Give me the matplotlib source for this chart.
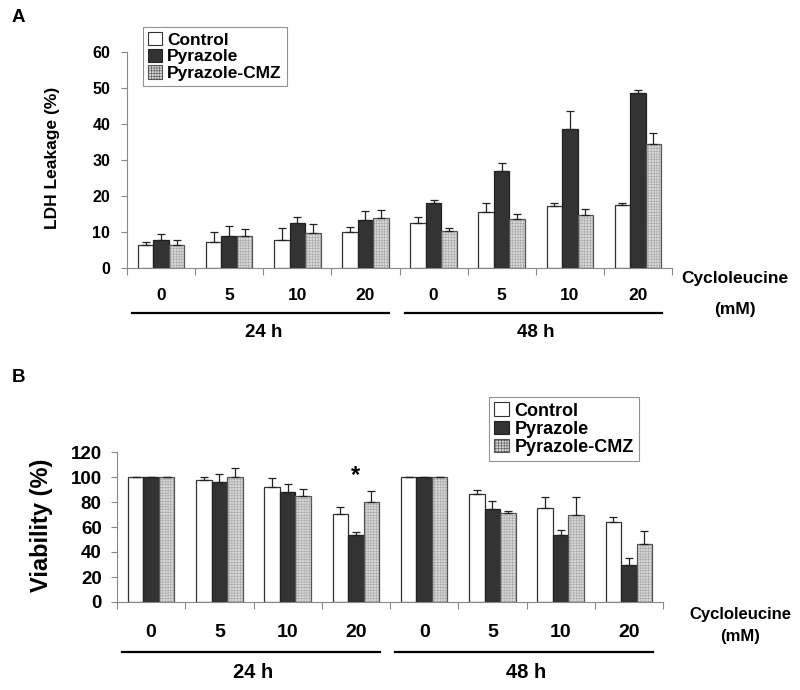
import matplotlib
matplotlib.use("Agg")
import matplotlib.pyplot as plt
import numpy as np
from matplotlib.patches import Patch
from matplotlib.transforms import blended_transform_factory

plt.rcParams["font.family"] = ["Liberation Sans", "DejaVu Sans"]
plt.rcParams["font.weight"] = "bold"
plt.rcParams["hatch.linewidth"] = 0.4

# ---- data ------------------------------------------------------------------
doses = ["0", "5", "10", "20", "0", "5", "10", "20"]
times = ["24 h", "48 h"]
series = ["Control", "Pyrazole", "Pyrazole-CMZ"]

ldh_control = [6.3, 7.3, 7.9, 10.1, 12.5, 15.5, 17.1, 17.6]
ldh_control_err = [1.0, 2.8, 3.3, 1.3, 1.6, 2.6, 1.0, 0.5]
ldh_pyrazole = [7.9, 9.0, 12.4, 13.4, 18.1, 26.9, 38.7, 48.6]
ldh_pyrazole_err = [1.6, 2.8, 1.9, 2.4, 0.9, 2.4, 4.8, 0.9]
ldh_cmz = [6.3, 9.0, 9.6, 13.8, 10.2, 13.6, 14.6, 34.4]
ldh_cmz_err = [1.6, 1.7, 2.5, 2.3, 0.8, 1.4, 1.8, 3.2]

via_control = [100, 97.3, 92.3, 70.2, 100, 86.4, 75.3, 64.4]
via_control_err = [0, 2.7, 6.9, 5.9, 0, 3.2, 8.7, 4.0]
via_pyrazole = [100, 96.3, 87.8, 54.0, 100, 74.1, 54.0, 29.8]
via_pyrazole_err = [0, 5.8, 6.3, 1.9, 0, 7.0, 3.7, 5.8]
via_cmz = [100, 100, 84.6, 79.8, 100, 71.3, 69.4, 46.3]
via_cmz_err = [0, 7.2, 5.8, 8.8, 0, 1.8, 14.6, 10.3]

# ---- styles ----------------------------------------------------------------
FILLS = [
    dict(facecolor="white", edgecolor="none"),
    dict(facecolor="#333333", edgecolor="none"),
    dict(facecolor="#d6d6d6", edgecolor="#a8a8a8", hatch="++++++"),
]
EDGES = ["#333333", "#222222", "#555555"]
W = 0.228
AXIS_GREY = "#888888"


def panel(ax, vals, errs, ymax, ystep, tick_fs, tick_pad, cat_fs, ylabel,
          ylabel_fs, ylabel_x, line_y, text_y, time_fs):
    x = np.arange(len(doses))
    for i, (v, e) in enumerate(zip(vals, errs)):
        xs = x + (i - 1) * W
        ax.bar(xs, v, W, linewidth=0, zorder=2, **FILLS[i])
        ax.bar(xs, v, W, facecolor="none", edgecolor=EDGES[i], linewidth=0.9,
               zorder=2.5)
        e = np.array(e)
        ax.errorbar(xs, v, yerr=[np.zeros_like(e), e], fmt="none",
                    ecolor="#222222", elinewidth=0.9, capsize=3, capthick=0.9,
                    zorder=3)
    ax.set_xlim(-0.5, len(doses) - 0.5)
    ax.set_ylim(0, ymax)
    ax.set_yticks(np.arange(0, ymax + 1, ystep))
    ax.tick_params(axis="y", labelsize=tick_fs, length=4, color=AXIS_GREY,
                   width=0.8, pad=tick_pad)
    ax.set_xticks(np.arange(-0.5, len(doses)), minor=False)
    ax.set_xticklabels([])
    ax.set_xticks(x, minor=True)
    ax.set_xticklabels(doses, minor=True, fontsize=cat_fs)
    ax.tick_params(axis="x", which="major", length=5, color=AXIS_GREY, width=0.8)
    ax.tick_params(axis="x", which="minor", length=0, pad=cat_fs * 1.15)
    for s in ["top", "right"]:
        ax.spines[s].set_visible(False)
    for s in ["left", "bottom"]:
        ax.spines[s].set_color(AXIS_GREY)
        ax.spines[s].set_linewidth(0.8)
    ax.set_ylabel(ylabel, fontsize=ylabel_fs, fontweight="bold")
    ax.yaxis.set_label_coords(ylabel_x, 0.51)

    tr = blended_transform_factory(ax.transData, ax.transAxes)
    for k, t in enumerate(times):
        x0 = k * 4 - 0.42
        x1 = k * 4 + 3.35
        ax.plot([x0, x1], [line_y, line_y], color="black", lw=1.6,
                transform=tr, clip_on=False)
        ax.text(k * 4 + 1.5, text_y, t, transform=tr, ha="center", va="center",
                fontsize=time_fs, fontweight="bold")


def legend(fig, anchor, fs):
    handles = [Patch(label=s, facecolor=FILLS[i]["facecolor"],
                     edgecolor=EDGES[i], hatch=FILLS[i].get("hatch"),
                     linewidth=0.8) for i, s in enumerate(series)]
    leg = fig.legend(handles=handles, loc="upper left", bbox_to_anchor=anchor,
                     fontsize=fs, frameon=True, fancybox=False,
                     handlelength=0.8, handleheight=0.8, handletextpad=0.3,
                     labelspacing=0.05, borderpad=0.3, borderaxespad=0)
    leg.get_frame().set_edgecolor("#777777")
    leg.get_frame().set_linewidth(0.8)
    return leg


fig = plt.figure(figsize=(8, 6.9), dpi=100)

# ---- panel A ---------------------------------------------------------------
axA = fig.add_axes([127 / 800, 1 - 268 / 690, 545 / 800, 216 / 690])
panel(axA, [ldh_control, ldh_pyrazole, ldh_cmz],
      [ldh_control_err, ldh_pyrazole_err, ldh_cmz_err],
      60, 10, 11.5, 8, 12.5, "LDH Leakage (%)", 12.5, -0.123,
      -0.208, -0.30, 13.5)
legend(fig, (143 / 800, 1 - 27 / 690), 12.5)

fig.text(12 / 800, 1 - 18 / 690, "A", fontsize=13.5, fontweight="bold",
         ha="left", va="center")
fig.text(735 / 800, 1 - 278 / 690, "Cycloleucine", fontsize=12.5,
         fontweight="bold", ha="center", va="center")
fig.text(735 / 800, 1 - 309 / 690, "(mM)", fontsize=12.5,
         fontweight="bold", ha="center", va="center")

# ---- panel B ---------------------------------------------------------------
axB = fig.add_axes([117 / 800, 1 - 602 / 690, 546 / 800, 150 / 690])
panel(axB, [via_control, via_pyrazole, via_cmz],
      [via_control_err, via_pyrazole_err, via_cmz_err],
      120, 20, 13.5, 7, 14, "Viability (%)", 17, -0.117,
      -0.333, -0.467, 14.5)
axB.text(3, via_pyrazole[3] + 47, "*", ha="center", va="center",
         fontsize=17, fontweight="bold")
legend(fig, (489 / 800, 1 - 397 / 690), 13)

fig.text(12 / 800, 1 - 378 / 690, "B", fontsize=13.5, fontweight="bold",
         ha="left", va="center")
fig.text(740 / 800, 1 - 615 / 690, "Cycloleucine", fontsize=12,
         fontweight="bold", ha="center", va="center")
fig.text(740 / 800, 1 - 636 / 690, "(mM)", fontsize=12,
         fontweight="bold", ha="center", va="center")

fig.savefig("out.png", dpi=100)
